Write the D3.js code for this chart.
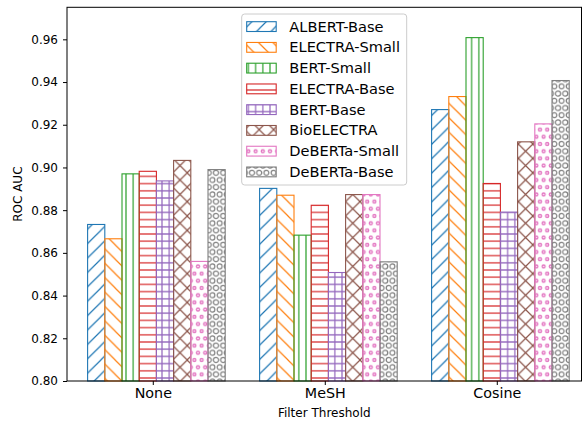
<!DOCTYPE html>
<html><head><meta charset="utf-8">
<script src="https://cdn.jsdelivr.net/npm/d3@7"></script>
<style>
html,body{margin:0;padding:0;background:#fff;}
svg{display:block;font-family:"DejaVu Sans",sans-serif;}
</style></head>
<body>
<svg id="chart" width="582" height="421"></svg>
<script>
const categories = ["None", "MeSH", "Cosine"];
const seriesNames = ["ALBERT-Base","ELECTRA-Small","BERT-Small","ELECTRA-Base","BERT-Base","BioELECTRA","DeBERTa-Small","DeBERTa-Base"];
const seriesColors = ["#1f77b4","#ff7f0e","#2ca02c","#d62728","#9467bd","#8c564b","#e377c2","#7f7f7f"];
const seriesHatches = ["/","\\","|","-","+","x","o","O"];
const albertBase    = [0.8733, 0.8902, 0.9271];
const electraSmall  = [0.8666, 0.8870, 0.9332];
const bertSmall     = [0.8970, 0.8683, 0.9608];
const electraBase   = [0.8982, 0.8823, 0.8925];
const bertBase      = [0.8937, 0.8508, 0.8791];
const bioElectra    = [0.9033, 0.8873, 0.9120];
const debertaSmall  = [0.8560, 0.8873, 0.9204];
const debertaBase   = [0.8990, 0.8558, 0.9407];
const seriesValues = [albertBase, electraSmall, bertSmall, electraBase, bertBase, bioElectra, debertaSmall, debertaBase];
const yTicks = [0.80,0.82,0.84,0.86,0.88,0.90,0.92,0.94,0.96];
const yLabel = "ROC AUC";
const xLabel = "Filter Threshold";

const svg = d3.select("#chart");
const L = 67, R = 581.5, T = 7.3, B = 381;
const barW = 0.1;
const x = d3.scaleLinear().domain([-0.5198, 2.4715]).range([L, R]);
const y = d3.scaleLinear().domain([0.8, 0.975]).range([B, T]);

// hatch patterns
const defs = svg.append("defs");
const P = 14.4, Q = 7.2, HW = 1.2;
function makePattern(id, h, color) {
  const p = defs.append("pattern").attr("id", id).attr("patternUnits", "userSpaceOnUse").attr("x", 0).attr("y", 0);
  const line = d => p.append("path").attr("d", d).attr("stroke", color).attr("stroke-width", HW).attr("fill", "none");
  if (h === "/") { p.attr("width", P).attr("height", P);
    line(`M-2,2L2,-2M0,${P}L${P},0M${P-2},${P+2}L${P+2},${P-2}`); }
  else if (h === "\\") { p.attr("width", P).attr("height", P);
    line(`M0,0L${P},${P}M-2,${P-2}L2,${P+2}M${P-2},-2L${P+2},2`); }
  else if (h === "x") { p.attr("width", P).attr("height", P);
    line(`M-2,2L2,-2M0,${P}L${P},0M${P-2},${P+2}L${P+2},${P-2}M0,0L${P},${P}M-2,${P-2}L2,${P+2}M${P-2},-2L${P+2},2`); }
  else if (h === "|") { p.attr("width", Q).attr("height", Q); line(`M${Q/2},0L${Q/2},${Q}`); }
  else if (h === "-") { p.attr("width", Q).attr("height", Q); line(`M0,${Q/2}L${Q},${Q/2}`); }
  else if (h === "+") { p.attr("width", Q).attr("height", Q); line(`M${Q/2},0L${Q/2},${Q}M0,${Q/2}L${Q},${Q/2}`); }
  else if (h === "o" || h === "O") {
    const r = h === "o" ? 1.5 : 2.5;
    p.attr("width", Q).attr("height", 2*Q);
    [[0,0],[Q,0],[0,2*Q],[Q,2*Q],[Q/2,Q]].forEach(([cx,cy]) =>
      p.append("circle").attr("cx", cx).attr("cy", cy).attr("r", r).attr("fill","none").attr("stroke", color).attr("stroke-width", h === "o" ? 1.4 : 1.2));
  }
}
seriesNames.forEach((n, i) => makePattern("hatch" + i, seriesHatches[i], seriesColors[i]));

// bars
seriesNames.forEach((name, i) => {
  const g = svg.append("g");
  g.selectAll("rect").data(seriesValues[i]).join("rect")
    .attr("x", (v, gi) => x(gi + (i - 4) * barW))
    .attr("width", x(barW) - x(0))
    .attr("y", v => y(v))
    .attr("height", v => y(0.8) - y(v))
    .attr("fill", `url(#hatch${i})`)
    .attr("stroke", seriesColors[i])
    .attr("stroke-width", 1.1);
});

// axes
const tickOffset = -0.021;
const xAxis = d3.axisBottom(x).tickValues(categories.map((c, i) => i + tickOffset))
  .tickFormat((d, i) => categories[i]).tickSize(4).tickPadding(3);
const gx = svg.append("g").attr("transform", `translate(0,${B})`).call(xAxis);
gx.select(".domain").remove();
gx.selectAll("text").attr("font-size", 14.3).attr("font-family", "DejaVu Sans").attr("fill", "#000");
gx.selectAll("line").attr("stroke", "#000");

const yAxis = d3.axisLeft(y).tickValues(yTicks).tickFormat(d3.format(".2f")).tickSize(4).tickPadding(5);
const gy = svg.append("g").attr("transform", `translate(${L},0)`).call(yAxis);
gy.select(".domain").remove();
gy.selectAll("text").attr("font-size", 12).attr("font-family", "DejaVu Sans").attr("fill", "#000");
gy.selectAll("line").attr("stroke", "#000");

// frame
svg.append("rect").attr("x", L).attr("y", T).attr("width", R - L).attr("height", B - T)
  .attr("fill", "none").attr("stroke", "#000").attr("stroke-width", 1);

// labels
svg.append("text").attr("x", (L + R) / 2).attr("y", 417).attr("text-anchor", "middle")
  .attr("font-size", 12).text(xLabel);
svg.append("text").attr("transform", `translate(22,${(T + B) / 2}) rotate(-90)`).attr("text-anchor", "middle")
  .attr("font-size", 12).text(yLabel);

// legend
const lg = svg.append("g");
lg.append("rect").attr("x", 241.7).attr("y", 14).attr("width", 165).attr("height", 171).attr("rx", 3)
  .attr("fill", "#fff").attr("fill-opacity", 0.8).attr("stroke", "#cccccc").attr("stroke-width", 1);
seriesNames.forEach((name, i) => {
  const yy = 21.7 + i * 20.76;
  lg.append("rect").attr("x", 246.7).attr("y", yy).attr("width", 29.5).attr("height", 9.8)
    .attr("fill", `url(#hatch${i})`).attr("stroke", seriesColors[i]).attr("stroke-width", 1.1);
  lg.append("text").attr("x", 289.3).attr("y", yy + 9.9).attr("font-size", 14.6).text(name);
});
</script>
</body></html>
